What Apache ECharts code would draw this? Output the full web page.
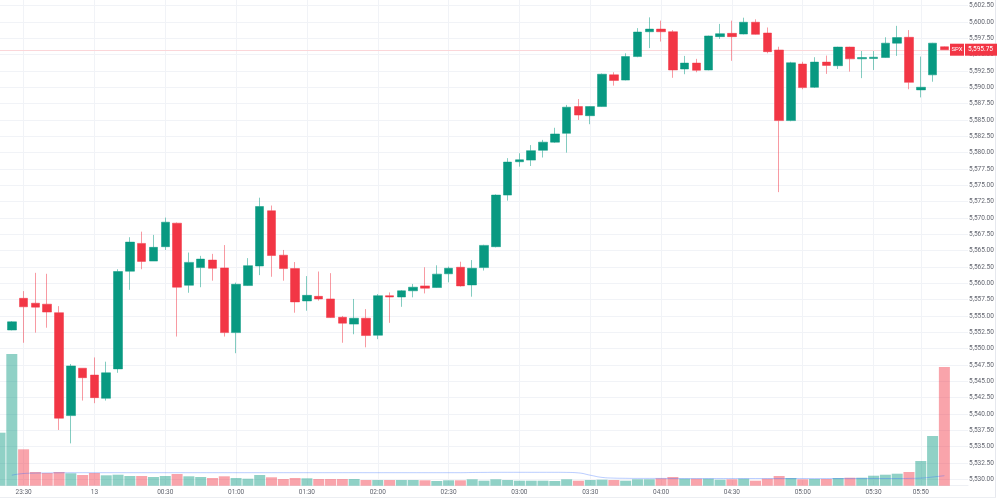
<!DOCTYPE html>
<html><head><meta charset="utf-8">
<script src="https://cdn.jsdelivr.net/npm/echarts@6/dist/echarts.min.js"></script>
<style>html,body{margin:0;padding:0;background:#fff}#c{width:1000px;height:502px}</style>
</head><body><div id="c"></div>
<script>
const times = ['23:20','23:25','23:30','23:35','23:40','23:45','23:50','23:55',
'00:00','00:05','00:10','00:15','00:20','00:25','00:30','00:35','00:40','00:45','00:50','00:55',
'01:00','01:05','01:10','01:15','01:20','01:25','01:30','01:35','01:40','01:45','01:50','01:55',
'02:00','02:05','02:10','02:15','02:20','02:25','02:30','02:35','02:40','02:45','02:50','02:55',
'03:00','03:05','03:10','03:15','03:20','03:25','03:30','03:35','03:40','03:45','03:50','03:55',
'04:00','04:05','04:10','04:15','04:20','04:25','04:30','04:35','04:40','04:45','04:50','04:55',
'05:00','05:05','05:10','05:15','05:20','05:25','05:30','05:35','05:40','05:45','05:50','05:55',
'06:00','06:05','06:10'];
const tickLabels = {'23:30':'23:30','00:00':'13','00:30':'00:30','01:00':'01:00','01:30':'01:30','02:00':'02:00','02:30':'02:30','03:00':'03:00','03:30':'03:30','04:00':'04:00','04:30':'04:30','05:00':'05:00','05:30':'05:30','05:50':'05:50'};
const opens = [null,5552.85,5557.7,5556.95,5556.8,5555.5,5539.75,5547.0,5545.95,5542.4,5546.9,5561.85,5566.1,5563.4,5565.6,5569.2,5559.7,5562.4,5563.55,5562.35,5552.45,5559.65,5562.65,5571.1,5564.3,5562.25,5557.3,5558.0,5557.6,5554.8,5553.75,5554.65,5552.05,5558.1,5557.9,5558.85,5559.6,5559.35,5561.45,5562.45,5559.75,5562.4,5565.6,5573.5,5578.6,5578.85,5580.35,5581.6,5582.95,5587.05,5585.65,5587.05,5591.9,5591.1,5594.7,5598.5,5598.9,5598.5,5592.8,5593.7,5592.65,5597.75,5598.25,5598.15,5599.95,5598.3,5595.7,5584.9,5593.55,5590.0,5593.85,5593.3,5596.15,5594.35,5594.4,5594.55,5596.75,5597.65,5589.6,5591.9,5596.2];
const closes = [null,5554.1,5556.4,5556.35,5555.6,5539.35,5547.35,5545.55,5542.5,5546.3,5561.8,5566.3,5563.35,5565.5,5569.35,5559.4,5563.2,5563.7,5562.3,5552.45,5559.85,5562.7,5571.75,5564.25,5562.25,5557.15,5558.15,5557.6,5554.75,5553.9,5554.65,5552.0,5558.1,5557.9,5558.85,5559.4,5559.25,5561.4,5562.3,5559.6,5562.3,5565.8,5573.5,5578.55,5578.9,5580.3,5581.6,5582.85,5586.95,5585.75,5587.05,5592.0,5591.05,5594.7,5598.45,5598.9,5598.5,5592.65,5593.7,5592.6,5597.85,5598.2,5597.75,5599.95,5598.1,5595.45,5584.9,5593.75,5589.95,5593.85,5593.35,5596.15,5594.35,5594.55,5594.6,5596.75,5597.6,5590.75,5590.0,5596.75,5595.75];
const highs = [null,5554.2,5558.8,5561.6,5561.45,5556.5,5547.65,5547.0,5548.65,5548.0,5562.15,5567.05,5567.9,5567.4,5570.05,5569.3,5564.7,5564.2,5564.5,5565.85,5560.1,5563.85,5573.1,5571.9,5565.1,5563.25,5561.1,5561.8,5561.55,5555.0,5557.6,5556.05,5558.35,5558.6,5558.95,5559.9,5562.45,5562.75,5562.55,5563.3,5563.55,5565.9,5573.6,5579.15,5579.9,5581.15,5581.95,5583.8,5587.3,5588.2,5587.1,5592.1,5592.3,5595.2,5599.05,5600.7,5600.2,5598.75,5594.8,5594.35,5597.9,5599.7,5600.2,5600.65,5600.4,5599.15,5596.2,5593.9,5593.9,5594.6,5594.85,5596.2,5596.2,5595.55,5595.55,5597.65,5599.4,5598.75,5594.7,5596.8,5596.25];
const lows = [null,5552.8,5550.9,5552.45,5553.2,5537.55,5535.5,5542.05,5541.65,5542.05,5546.3,5559.0,5562.15,5563.4,5565.1,5551.85,5558.55,5559.4,5560.4,5551.85,5549.3,5559.6,5561.25,5561.0,5560.4,5555.5,5555.8,5557.35,5554.7,5550.9,5552.2,5550.2,5551.45,5553.95,5556.4,5557.85,5558.45,5559.3,5560.15,5559.5,5557.95,5561.95,5565.5,5572.65,5577.85,5577.95,5579.25,5581.5,5580.0,5585.0,5584.35,5587.0,5590.25,5591.05,5594.6,5596.0,5597.0,5591.45,5592.0,5592.3,5592.6,5597.4,5594.05,5598.1,5598.05,5595.2,5573.95,5584.8,5589.7,5589.9,5592.05,5592.8,5592.4,5591.4,5592.65,5594.5,5594.8,5589.7,5588.45,5590.85,5595.75];
const volumes = [53,131.7,36.4,13.7,12.7,13.7,12.4,10.7,12.7,10.4,11,9.7,9.7,8.7,9.7,11.7,9.4,8.7,7.7,9.4,7.7,7,10.7,8.4,6.7,7.7,7.4,6.7,6.7,6.7,6.7,5.7,5.7,5.7,5.7,5.7,5.4,4.7,5.4,5.4,6.4,5,6.4,5.7,5,5,5,4.7,6.4,5,5.7,6,5.7,5,6.4,6.4,7.4,8.7,7,7,7,6,6.4,7,5,7,9.7,7.7,6.4,6.7,6.7,7.7,8,8,10,11,12,13.7,24.7,49.7,118.7];
const volumeMA = [null,10.5,12.2,12.6,12.8,12.9,13,13,13,13,13,13,13,13,13,13,13,13,13,13,13,13,13,13,13,13,13,13,13,13,13,13,13,13,13,13,13,13,13,13,13.2,13.3,13.4,13.4,13.4,13.4,13.4,13.4,13.3,12.8,10.5,8.3,7.6,7.4,7.3,7.3,7.3,7.2,7.2,7.2,7.2,7.2,7.2,7.2,7.2,7.2,7.2,7.2,7.2,7.2,7.2,7.2,7.2,7.2,7.2,7.2,7.2,7.3,7.6,8.7,10.0];
const lastPrice = 5595.75;
const symbol = 'SPX';

const UP = '#089981', DOWN = '#f23645';
const candleData = opens.map((o, i) => o == null ? ['-','-','-','-'] : [o, closes[i], lows[i], highs[i]]);
const volData = volumes.map((v, i) => {
  const up = opens[i] == null || closes[i] >= opens[i];
  return {value: v, itemStyle: {color: up ? 'rgba(8,153,129,0.45)' : 'rgba(242,54,69,0.45)'}};
});
const fmt = v => v.toLocaleString('en-US', {minimumFractionDigits: 2, maximumFractionDigits: 2});
const isTick = (i) => tickLabels[times[i]] !== undefined;
const FONT = 'Roboto';

const chart = echarts.init(document.getElementById('c'), null, {renderer: 'canvas'});
chart.setOption({
  animation: false,
  backgroundColor: '#ffffff',
  grid: [
    {left: 0, right: 32, top: 5.6, bottom: 22.7},
    {left: 0, right: 32, top: 0, bottom: 16.3}
  ],
  xAxis: [
    {type: 'category', gridIndex: 0, data: times, boundaryGap: false,
     axisLine: {show: false}, axisTick: {show: false}, axisLabel: {show: false}, splitLine: {show: false}},
    {type: 'category', gridIndex: 1, data: times, boundaryGap: false,
     axisLine: {show: true, lineStyle: {color: '#eef0f4'}}, axisTick: {show: false},
     axisLabel: {interval: (i) => isTick(i), formatter: (v) => tickLabels[v] || '', color: '#62656f', fontSize: 6.5, fontFamily: FONT, margin: 3},
     splitLine: {show: true, interval: (i) => isTick(i), lineStyle: {color: '#f1f3f7', width: 1}}}
  ],
  yAxis: [
    {type: 'value', gridIndex: 0, position: 'right', min: 5530, max: 5602.5, interval: 2.5,
     axisLine: {show: false}, axisTick: {show: false},
     axisLabel: {formatter: fmt, color: '#62656f', fontSize: 6.5, fontFamily: FONT, margin: 1},
     splitLine: {show: true, lineStyle: {color: '#f1f3f7', width: 1}}},
    {type: 'value', gridIndex: 1, min: 0, max: 485.7, show: false, splitLine: {show: false}}
  ],
  series: [
    {type: 'bar', xAxisIndex: 1, yAxisIndex: 1, data: volData, barWidth: 11, z: 1},
    {type: 'line', xAxisIndex: 1, yAxisIndex: 1, data: volumeMA, smooth: true, showSymbol: false,
     lineStyle: {color: 'rgba(41,98,255,0.32)', width: 1}, z: 2},
    {type: 'candlestick', xAxisIndex: 0, yAxisIndex: 0, data: candleData, barWidth: 9, z: 3,
     itemStyle: {color: UP, color0: DOWN, borderColor: 'rgba(8,153,129,0.5)', borderColor0: 'rgba(242,54,69,0.5)', borderWidth: 1}}
  ]
});

const py = chart.convertToPixel({yAxisIndex: 0}, lastPrice);
const lineY = Math.round(py) + 0.5;
chart.setOption({
  graphic: [
    {type: 'line', shape: {x1: 0, y1: lineY, x2: 950, y2: lineY}, style: {stroke: '#fbd6d9', lineWidth: 1}, z: 1, silent: true},
    {type: 'line', shape: {x1: 995.5, y1: 0, x2: 995.5, y2: 498}, style: {stroke: '#e6e8ee', lineWidth: 1}, z: 10},
    {type: 'line', shape: {x1: 0, y1: 497.5, x2: 996, y2: 497.5}, style: {stroke: '#eceef2', lineWidth: 1}, z: 10},
    {type: 'rect', shape: {x: 950, y: py - 6, width: 14, height: 12}, style: {fill: DOWN}, z: 20},
    {type: 'rect', shape: {x: 965, y: py - 6, width: 32, height: 12}, style: {fill: DOWN}, z: 20},
    {type: 'text', x: 957, y: py, style: {text: symbol, fill: '#ffffff', font: '6px ' + FONT, align: 'center', verticalAlign: 'middle'}, z: 21},
    {type: 'text', x: 980.5, y: py, style: {text: fmt(lastPrice), fill: '#ffffff', font: '6.5px ' + FONT, align: 'center', verticalAlign: 'middle'}, z: 21}
  ]
});
</script></body></html>
